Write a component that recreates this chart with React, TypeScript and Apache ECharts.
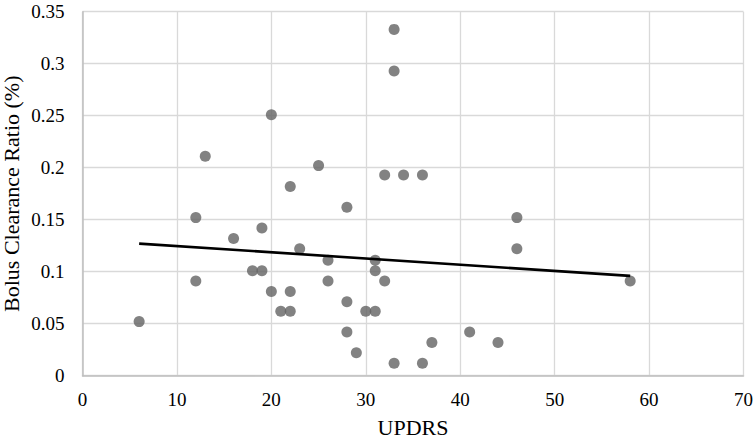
import React, { useEffect, useRef } from "react";
import * as echarts from "echarts";

const updrs = [6, 12, 12, 13, 16, 18, 19, 19, 20, 20, 21, 22, 22, 22, 23, 25, 26, 26, 28, 28, 28, 29, 30, 31, 31, 31, 32, 32, 33, 33, 33, 34, 36, 36, 37, 41, 44, 46, 46, 58];
const ratio = [0.052, 0.152, 0.091, 0.211, 0.132, 0.101, 0.101, 0.142, 0.251, 0.081, 0.062, 0.062, 0.081, 0.182, 0.122, 0.202, 0.111, 0.091, 0.162, 0.071, 0.042, 0.022, 0.062, 0.062, 0.101, 0.111, 0.091, 0.193, 0.333, 0.293, 0.012, 0.193, 0.193, 0.012, 0.032, 0.042, 0.032, 0.152, 0.122, 0.091];
const trendX = [6, 58];
const trendY = [0.127, 0.096];
const xTicks = [0, 10, 20, 30, 40, 50, 60, 70];
const yTicks = ["0", "0.05", "0.1", "0.15", "0.2", "0.25", "0.3", "0.35"];

const FONT = "Liberation Serif";
const tickRich = { t: { fontFamily: FONT, fontSize: 19, color: "#000" } };

export default function App() {
  const ref = useRef<HTMLDivElement>(null);
  useEffect(() => {
    if (!ref.current) return;
    const chart = echarts.init(ref.current, null, { renderer: "svg" });
    chart.setOption({
      animation: false,
      textStyle: { fontFamily: FONT },
      grid: {
        left: 82.5,
        right: 11.5,
        top: 11.7,
        bottom: 64.3,
        containLabel: false,
        outerBoundsMode: "none",
      },
      xAxis: {
        type: "value",
        min: xTicks[0],
        max: xTicks[xTicks.length - 1],
        interval: 10,
        name: "UPDRS",
        nameLocation: "middle",
        nameGap: 41,
        nameMoveOverlap: false,
        nameTextStyle: { fontFamily: FONT, fontSize: 22, color: "#000" },
        axisLine: { show: true, lineStyle: { color: "#bfbfbf", width: 1.5 } },
        axisTick: { show: false },
        axisLabel: {
          fontFamily: FONT,
          fontSize: 19,
          color: "#000",
          margin: 14,
          formatter: (v: number) => "{t|" + v + "}",
          rich: tickRich,
        },
        splitLine: { show: true, lineStyle: { color: "#d9d9d9", width: 1.3 } },
      },
      yAxis: {
        type: "value",
        min: 0,
        max: 0.35,
        interval: 0.05,
        name: "Bolus Clearance Ratio (%)",
        nameLocation: "middle",
        nameGap: 60,
        nameMoveOverlap: false,
        nameTextStyle: { fontFamily: FONT, fontSize: 22, color: "#000" },
        axisLine: { show: true, lineStyle: { color: "#bfbfbf", width: 1.5 } },
        axisTick: { show: false },
        axisLabel: {
          fontFamily: FONT,
          fontSize: 19,
          color: "#000",
          margin: 18,
          formatter: (v: number) => "{t|" + (yTicks[Math.round(v / 0.05)] ?? String(v)) + "}",
          rich: tickRich,
        },
        splitLine: { show: true, lineStyle: { color: "#d9d9d9", width: 1.3 } },
      },
      series: [
        {
          type: "scatter",
          data: updrs.map((x, i) => [x, ratio[i]]),
          symbol: "circle",
          symbolSize: 11,
          itemStyle: { color: "#636363" },
          z: 2,
        },
        {
          type: "line",
          data: trendX.map((x, i) => [x, trendY[i]]),
          symbol: "none",
          lineStyle: { color: "#000", width: 2.6 },
          z: 3,
        },
      ],
    });
    return () => chart.dispose();
  }, []);
  return <div ref={ref} style={{ width: 755, height: 440, position: "absolute", left: 0, top: 0 }} />;
}
